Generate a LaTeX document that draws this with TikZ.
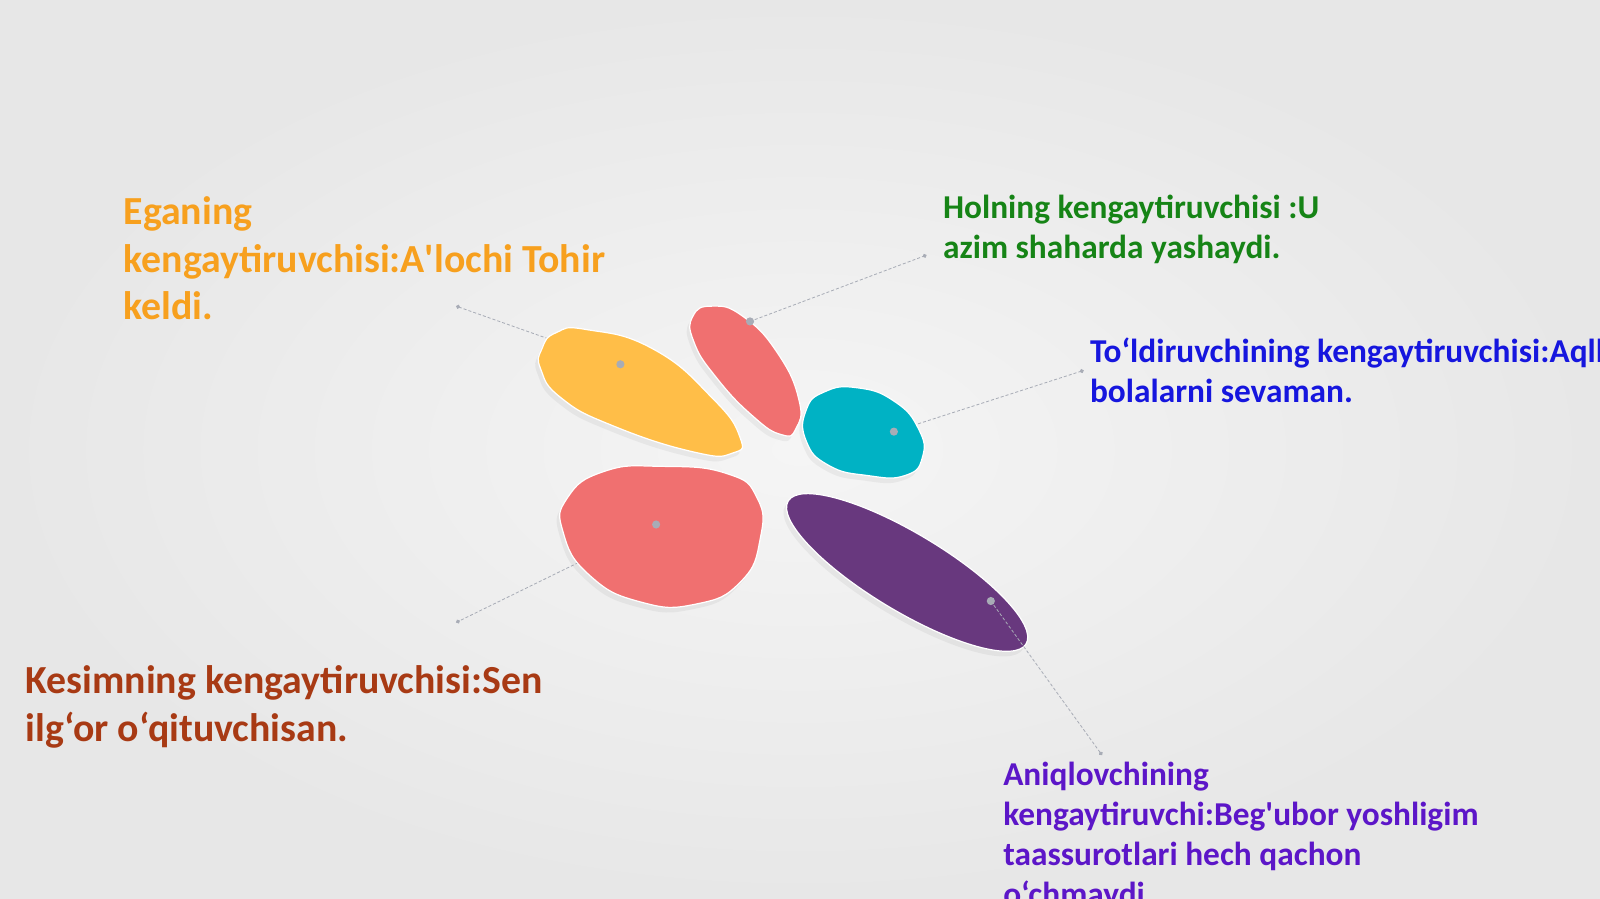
\documentclass[tikz,border=0pt]{standalone}
\usepackage{fontspec}
\setmainfont{Carlito}
\usepackage{tikz}
\usetikzlibrary{shadows}
\usetikzlibrary{arrows.meta}
\definecolor{bgout}{RGB}{231,231,231}
\definecolor{bgin}{RGB}{245,245,245}
\definecolor{blobyellow}{RGB}{255,190,72}
\definecolor{blobred}{RGB}{240,112,112}
\definecolor{blobteal}{RGB}{0,178,196}
\definecolor{blobpurple}{RGB}{104,56,126}
\definecolor{txtorange}{RGB}{247,160,30}
\definecolor{txtgreen}{RGB}{22,132,22}
\definecolor{txtblue}{RGB}{22,22,222}
\definecolor{txtbrown}{RGB}{168,58,20}
\definecolor{txtviolet}{RGB}{92,22,200}
\definecolor{dotgray}{RGB}{168,172,182}
\tikzset{
blob/.style={
  draw=white,
  line width=1.2pt,
  drop shadow={opacity=0.10,shadow xshift=-3pt,shadow yshift=-5pt}
},
lbl/.style={anchor=north west,inner sep=0pt,align=left,
  font=\bfseries\fontsize{32.7}{39}\selectfont},
lbl big/.style={lbl,font=\bfseries\fontsize{39}{47}\selectfont},
leader/.style={dotgray,line width=0.8pt,densely dashed,-{Circle[length=4pt]}},
knob/.style={circle,fill=dotgray,inner sep=0pt,minimum size=8pt},
}

\begin{document}
\begin{tikzpicture}[x=1pt,y=-1pt]
\useasboundingbox (0,0) rectangle (1568,881);
\shade[inner color=bgin,outer color=bgout] (0,0) rectangle (1568,881);
% the dots of the blobs
\coordinate (yel) at (608,357);
\coordinate (redtop) at (735,315);
\coordinate (teal) at (876,423);
\coordinate (redbot) at (643,514);
\coordinate (purp) at (971,589);
% the free ends
\coordinate (yel-end) at (447,300);
\coordinate (redtop-end) at (908,250);
\coordinate (teal-end) at (1062,363);
\coordinate (redbot-end) at (447,610);
\coordinate (purp-end) at (1080,740);
% the connectors behind
\draw[leader] (yel) -- (yel-end);
\draw[leader] (redtop) -- (redtop-end);
\draw[leader] (teal) -- (teal-end);
\draw[leader] (redbot) -- (redbot-end);
% the blobs
\draw[blob,fill=blobyellow] plot[smooth cycle,tension=0.85] coordinates {
  (531,342) (545,326) (575,323) (640,342) (698,390) (725,428)
  (718,444) (680,443) (600,417) (550,390) (530,362)};
\draw[blob,fill=blobred] plot[smooth cycle,tension=0.85] coordinates {
  (679,310) (698,300) (728,310) (762,346) (783,392) (780,420)
  (766,426) (738,408) (702,370) (680,335)};
\draw[blob,fill=blobteal] plot[smooth cycle,tension=0.85] coordinates {
  (790,402) (808,384) (840,380) (876,393) (900,420) (904,448)
  (887,466) (850,466) (812,456) (790,432)};
\draw[blob,fill=blobred] plot[smooth cycle,tension=0.85] coordinates {
  (556,488) (592,462) (648,457) (712,464) (742,488) (745,528)
  (726,570) (682,592) (628,590) (578,564) (552,522)};
\draw[blob,fill=blobpurple,rotate around={-31:(889,561)}]
  (889,561) ellipse [x radius=136,y radius=38];
% the connector in front
\draw[leader] (purp) -- (purp-end);
\foreach \n in {yel,redtop,teal,redbot,purp}
  \node[knob] (\n-k) at (\n) {};
% the texts
\node[lbl big,txtorange] (ega) at (121,192)
  {Eganing\\kengaytiruvchisi:A\textquotesingle lochi Tohir\\keldi.};
\node[lbl,txtgreen] (hol) at (924,191)
  {Holning kengaytiruvchisi :U\\azim shaharda yashaydi.};
\node[lbl,txtblue] (tol) at (1068,331)
  {To‘ldiruvchining kengaytiruvchisi:Aqlli\\bolalarni sevaman.};
\node[lbl,txtviolet] (aniq) at (983,747)
  {Aniqlovchining\\kengaytiruvchi:Beg\textquotesingle ubor yoshligim\\taassurotlari hech qachon\\o‘chmaydi.};
\node[lbl big,txtbrown] (kes) at (25,652)
  {Kesimning kengaytiruvchisi:Sen\\ilg‘or o‘qituvchisan.};
\end{tikzpicture}
\end{document}
